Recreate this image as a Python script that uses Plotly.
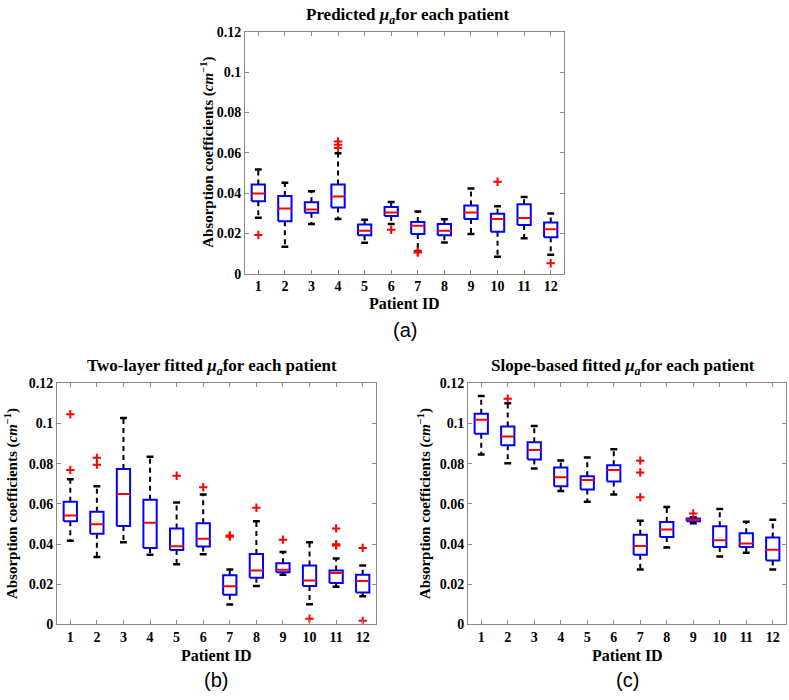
import plotly.graph_objects as go

patients = list(range(1, 13))
tick_vals = [0, 0.02, 0.04, 0.06, 0.08, 0.1, 0.12]
tick_text = ["0", "0.02", "0.04", "0.06", "0.08", "0.1", "0.12"]

# Panel (a): Predicted mu_a
a_lower = [0.0278, 0.0133, 0.0246, 0.0271, 0.0154, 0.0246, 0.0112, 0.0155, 0.0197, 0.0084, 0.0176, 0.0094]
a_q1 = [0.0359, 0.0260, 0.0302, 0.0328, 0.0191, 0.0286, 0.0197, 0.0191, 0.0271, 0.0208, 0.0241, 0.0181]
a_median = [0.0398, 0.0323, 0.0318, 0.0383, 0.0213, 0.0304, 0.0238, 0.0213, 0.0304, 0.0271, 0.0276, 0.0221]
a_q3 = [0.0443, 0.0386, 0.0354, 0.0443, 0.0244, 0.0331, 0.0257, 0.0247, 0.0338, 0.0297, 0.0344, 0.0254]
a_upper = [0.0517, 0.0451, 0.0409, 0.0598, 0.0268, 0.0356, 0.0309, 0.0270, 0.0423, 0.0335, 0.0380, 0.0299]
a_outliers = [[0.0192], [], [], [0.0656, 0.0640, 0.0624], [], [0.0218], [0.0110, 0.0105], [], [], [0.0456], [], [0.0052]]

# Panel (b): Two-layer fitted mu_a
b_lower = [0.0417, 0.0336, 0.0409, 0.0347, 0.0300, 0.0349, 0.0099, 0.0191, 0.0248, 0.0101, 0.0188, 0.0141]
b_q1 = [0.0513, 0.0451, 0.0490, 0.0380, 0.0370, 0.0388, 0.0148, 0.0232, 0.0260, 0.0191, 0.0206, 0.0159]
b_median = [0.0542, 0.0498, 0.0649, 0.0506, 0.0389, 0.0427, 0.0190, 0.0269, 0.0272, 0.0219, 0.0256, 0.0216]
b_q3 = [0.0611, 0.0561, 0.0774, 0.0620, 0.0477, 0.0504, 0.0245, 0.0350, 0.0305, 0.0294, 0.0269, 0.0247]
b_upper = [0.0723, 0.0688, 0.1027, 0.0834, 0.0607, 0.0647, 0.0274, 0.0513, 0.0360, 0.0409, 0.0328, 0.0294]
b_outliers = [[0.1046, 0.0769], [0.0829, 0.0795], [], [], [0.0740], [0.0683], [0.0443, 0.0437], [0.0581], [0.0422], [0.0029], [0.0478, 0.0399, 0.0393], [0.0381, 0.0018]]

# Panel (c): Slope-based fitted mu_a
c_lower = [0.0846, 0.0802, 0.0776, 0.0664, 0.0610, 0.0646, 0.0273, 0.0383, 0.0503, 0.0338, 0.0357, 0.0273]
c_q1 = [0.0949, 0.0891, 0.0821, 0.0688, 0.0672, 0.0711, 0.0347, 0.0435, 0.0513, 0.0386, 0.0386, 0.0318]
c_median = [0.1018, 0.0935, 0.0868, 0.0732, 0.0719, 0.0769, 0.0391, 0.0472, 0.0521, 0.0419, 0.0403, 0.0372]
c_q3 = [0.1048, 0.0985, 0.0907, 0.0781, 0.0738, 0.0792, 0.0446, 0.0510, 0.0527, 0.0489, 0.0454, 0.0433]
c_upper = [0.1136, 0.1100, 0.0988, 0.0816, 0.0831, 0.0872, 0.0516, 0.0584, 0.0534, 0.0575, 0.0511, 0.0521]
c_outliers = [[], [0.1123], [], [], [], [], [0.0815, 0.0756, 0.0633], [], [0.0552], [], [], []]

W, H = 789, 700
BOX_HALF = 0.25
CAP_HALF = 0.13
SERIF = "Liberation Serif"


def px(x):
    return x / W


def py(y):
    return 1 - y / H


def add_panel(fig, xa, ya, lower, q1, med, q3, upper, outliers):
    xref = "x" if xa == 1 else f"x{xa}"
    yref = "y" if ya == 1 else f"y{ya}"
    bx, by, mx, my, wx, wy, cx, cy, ox, oy = [], [], [], [], [], [], [], [], [], []
    for i, p in enumerate(patients):
        bx += [p - BOX_HALF, p + BOX_HALF, p + BOX_HALF, p - BOX_HALF, p - BOX_HALF, None]
        by += [q1[i], q1[i], q3[i], q3[i], q1[i], None]
        mx += [p - BOX_HALF, p + BOX_HALF, None]
        my += [med[i], med[i], None]
        wx += [p, p, None, p, p, None]
        wy += [q3[i], upper[i], None, q1[i], lower[i], None]
        cx += [p - CAP_HALF, p + CAP_HALF, None, p - CAP_HALF, p + CAP_HALF, None]
        cy += [upper[i], upper[i], None, lower[i], lower[i], None]
        for v in outliers[i]:
            ox.append(p)
            oy.append(v)
    fig.add_trace(go.Scatter(x=wx, y=wy, mode="lines", xaxis=xref, yaxis=yref,
                             line=dict(color="black", width=2, dash="5px,4px"), hoverinfo="skip"))
    fig.add_trace(go.Scatter(x=cx, y=cy, mode="lines", xaxis=xref, yaxis=yref,
                             line=dict(color="black", width=2.5), hoverinfo="skip"))
    fig.add_trace(go.Scatter(x=bx, y=by, mode="lines", xaxis=xref, yaxis=yref,
                             line=dict(color="#0000FF", width=2), hoverinfo="skip"))
    fig.add_trace(go.Scatter(x=mx, y=my, mode="lines", xaxis=xref, yaxis=yref,
                             line=dict(color="#FF0000", width=2), hoverinfo="skip"))
    fig.add_trace(go.Scatter(x=ox, y=oy, mode="markers", xaxis=xref, yaxis=yref,
                             marker=dict(symbol="cross-thin", size=6, color="#FF0000",
                                         line=dict(color="#FF0000", width=2)),
                             hoverinfo="skip"))


fig = go.Figure()
add_panel(fig, 1, 1, a_lower, a_q1, a_median, a_q3, a_upper, a_outliers)
add_panel(fig, 2, 2, b_lower, b_q1, b_median, b_q3, b_upper, b_outliers)
add_panel(fig, 3, 3, c_lower, c_q1, c_median, c_q3, c_upper, c_outliers)

tick_font = dict(family=SERIF, size=14, color="black", weight="bold")
axis_common = dict(showline=True, linecolor="#8a8a8a", linewidth=1, mirror="ticks",
                   ticks="inside", ticklen=4, tickcolor="#8a8a8a", showgrid=False,
                   zeroline=False, tickfont=tick_font, fixedrange=True)

panels = {
    1: dict(x0=245, x1=564, y0=25.5, y1=272.5),
    2: dict(x0=57, x1=376, y0=384.5, y1=631),
    3: dict(x0=468, x1=786, y0=384.5, y1=631),
}
layout = dict(width=W, height=H, margin=dict(l=0, r=0, t=0, b=0),
              paper_bgcolor="white", plot_bgcolor="white", showlegend=False)
for k, g in panels.items():
    xs = "xaxis" if k == 1 else f"xaxis{k}"
    ys = "yaxis" if k == 1 else f"yaxis{k}"
    layout[xs] = dict(domain=[px(g["x0"]), px(g["x1"])], range=[0.5, 12.5],
                      tickvals=patients, ticktext=[str(p) for p in patients],
                      anchor="y" if k == 1 else f"y{k}", **axis_common)
    layout[ys] = dict(domain=[py(g["y1"]), py(g["y0"])], range=[0, 0.12],
                      tickvals=tick_vals, ticktext=tick_text,
                      anchor="x" if k == 1 else f"x{k}", **axis_common)
fig.update_layout(**layout)

title_font = dict(family=SERIF, size=17, color="black", weight="bold")
label_font = dict(family=SERIF, size=15, color="black", weight="bold")
xlab_font = dict(family=SERIF, size=16, color="black", weight="bold")
tag_font = dict(family="Liberation Sans", size=20, color="black")
mu = "<i>μ<sub>a</sub></i>"
ylab = "Absorption coefficients (<i>cm</i><sup>−1</sup>)"

annots = [
    (408, 9, f"Predicted {mu}for each patient", title_font, 0),
    (212, 368, f"Two-layer fitted {mu}for each patient", title_font, 0),
    (623, 368, f"Slope-based fitted {mu}for each patient", title_font, 0),
    (208, 149, ylab, label_font, -90),
    (11, 508, ylab, label_font, -90),
    (424, 508, ylab, label_font, -90),
    (404.5, 303, "Patient ID", xlab_font, 0),
    (216.5, 663, "Patient ID", xlab_font, 0),
    (627, 663, "Patient ID", xlab_font, 0),
    (404.5, 330, "(a)", tag_font, 0),
    (216.5, 688, "(b)", tag_font, 0),
    (627, 688, "(c)", tag_font, 0),
]
for x, y, t, f, ang in annots:
    fig.add_annotation(x=px(x), y=py(y), xref="paper", yref="paper", text=t, font=f,
                       showarrow=False, xanchor="center", yanchor="middle", textangle=ang)

fig.write_html("out.html", config={"displayModeBar": False},
               post_script="document.body.style.margin='0';document.body.style.overflow='hidden';")
